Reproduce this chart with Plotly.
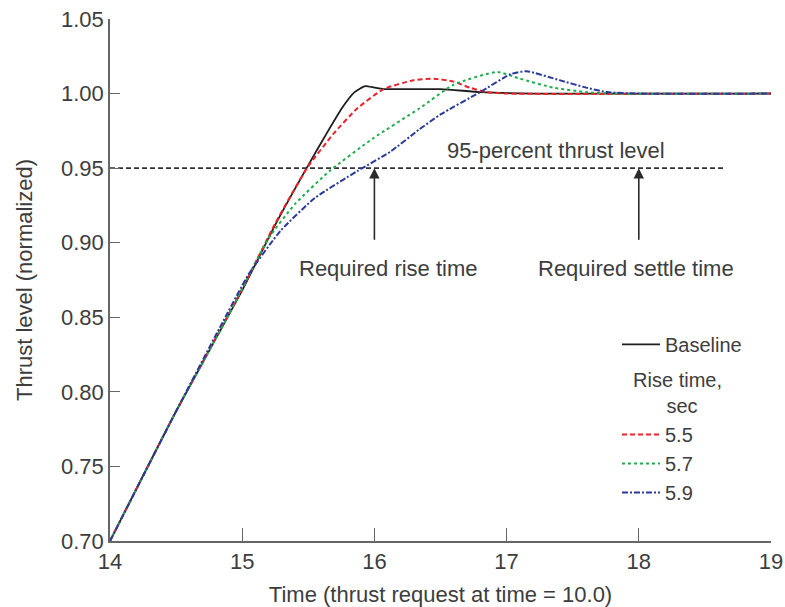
import plotly.graph_objects as go

# ---- data ----
base_x = [14.0, 14.5, 15.0, 15.25, 15.5, 15.65, 15.76, 15.85, 15.93, 16.0, 16.07, 16.5, 16.8, 17.2, 19.0]
base_y = [0.700, 0.787, 0.868, 0.912, 0.952, 0.975, 0.991, 1.001, 1.005, 1.004, 1.003, 1.003, 1.001, 1.000, 1.000]

r55_x = [14.0, 14.5, 15.0, 15.25, 15.49, 15.69, 15.87, 16.07, 16.3, 16.45, 16.6, 16.72, 16.85, 17.0, 19.0]
r55_y = [0.700, 0.787, 0.869, 0.913, 0.950, 0.973, 0.990, 1.003, 1.009, 1.010, 1.008, 1.004, 1.001, 1.000, 1.000]

r57_x = [14.0, 14.5, 14.9, 15.2, 15.4, 15.66, 15.99, 16.34, 16.6, 16.93, 17.1, 17.35, 17.6, 17.8, 19.0]
r57_y = [0.700, 0.787, 0.852, 0.903, 0.926, 0.948, 0.970, 0.990, 1.006, 1.0145, 1.010, 1.004, 1.001, 1.000, 1.000]

r59_x = [14.0, 14.5, 14.83, 15.05, 15.29, 15.55, 15.87, 16.12, 16.34, 16.5, 16.8, 17.03, 17.15, 17.4, 17.6, 17.76, 18.0, 19.0]
r59_y = [0.700, 0.787, 0.843, 0.879, 0.908, 0.930, 0.948, 0.961, 0.976, 0.986, 1.001, 1.013, 1.015, 1.009, 1.004, 1.001, 1.000, 1.000]

threshold = 0.95
threshold_x = [14.0, 18.66]
rise_time = 16.0
settle_time = 18.0

x_ticks = [14, 15, 16, 17, 18, 19]
y_ticks = [0.70, 0.75, 0.80, 0.85, 0.90, 0.95, 1.00, 1.05]

TXT = "#3d3d3d"
FONT = "Liberation Sans, Arial, sans-serif"
FS = 22
LFS = 20
NB = "&nbsp;"

fig = go.Figure()

fig.add_trace(go.Scatter(x=threshold_x, y=[threshold, threshold], mode="lines",
                         line=dict(color="#333333", width=1.9, dash="5px,3px"),
                         showlegend=False, hoverinfo="skip"))

fig.add_trace(go.Scatter(x=base_x, y=base_y, mode="lines", name="Baseline",
                         line=dict(color="#1e1e1e", width=1.8, shape="spline", smoothing=0.5),
                         legendgroup="a"))
fig.add_trace(go.Scatter(x=r55_x, y=r55_y, mode="lines", name="5.5",
                         line=dict(color="#e8232a", width=2, dash="5px,3px", shape="spline", smoothing=0.5),
                         legendgroup="b",
                         legendgrouptitle=dict(text=NB * 2 + "Rise time,<br>" + NB * 8 + "sec",
                                               font=dict(size=LFS, color=TXT, family=FONT))))
fig.add_trace(go.Scatter(x=r57_x, y=r57_y, mode="lines", name="5.7",
                         line=dict(color="#1fae4b", width=2, dash="dot", shape="spline", smoothing=0.5),
                         legendgroup="b"))
fig.add_trace(go.Scatter(x=r59_x, y=r59_y, mode="lines", name="5.9",
                         line=dict(color="#2a3a9c", width=2, dash="6px,2px,2px,2px", shape="spline", smoothing=0.5),
                         legendgroup="b"))

annos = [
    dict(x=17.37, y=0.962, text="95-percent thrust level", showarrow=False),
    dict(x=16.11, y=0.8825, text="Required rise time", showarrow=False),
    dict(x=17.98, y=0.8825, text="Required settle time", showarrow=False),
]
for t in (rise_time, settle_time):
    annos.append(dict(x=t, y=threshold, ax=t, ay=0.901, axref="x", ayref="y",
                      showarrow=True, arrowhead=2, arrowsize=1.3, arrowwidth=1.6,
                      arrowcolor="#2a2a2a", text=""))
for a in annos:
    a["xref"] = "x"
    a["yref"] = "y"
    a["font"] = dict(size=FS, color=TXT, family=FONT)

fig.update_layout(
    width=785, height=607,
    margin=dict(l=110, r=14, t=19, b=66),
    paper_bgcolor="white", plot_bgcolor="white",
    font=dict(family=FONT, size=FS, color=TXT),
    annotations=annos,
    showlegend=True,
    legend=dict(x=0.767, y=0.414, xanchor="left", yanchor="top",
                bgcolor="rgba(0,0,0,0)", font=dict(size=LFS, color=TXT, family=FONT),
                tracegroupgap=6, itemwidth=38, traceorder="grouped"),
    xaxis=dict(range=[14, 19], tickvals=x_ticks, ticktext=[str(v) for v in x_ticks],
               showgrid=False, zeroline=False, showline=True, linecolor="#666", linewidth=1.5,
               ticks="inside", ticklen=13, tickwidth=1.3, tickcolor="#666", automargin=False,
               tickfont=dict(size=FS, color=TXT), ticklabeloverflow="allow",
               title=dict(text="Time (thrust request at time = 10.0)", standoff=14,
                          font=dict(size=FS, color=TXT))),
    yaxis=dict(range=[0.70, 1.05], tickvals=y_ticks, ticktext=[f"{v:.2f}" for v in y_ticks],
               showgrid=False, zeroline=False, showline=True, linecolor="#666", linewidth=1.5,
               ticks="inside", ticklen=10, tickwidth=1.3, tickcolor="#666", automargin=False,
               tickfont=dict(size=FS, color=TXT), ticklabeloverflow="allow",
               title=dict(text="Thrust level (normalized)", standoff=22,
                          font=dict(size=FS, color=TXT))),
)

fig.write_html("out.html", config={"displayModeBar": False},
               post_script="document.body.style.margin='0';document.documentElement.style.overflow='hidden';")
